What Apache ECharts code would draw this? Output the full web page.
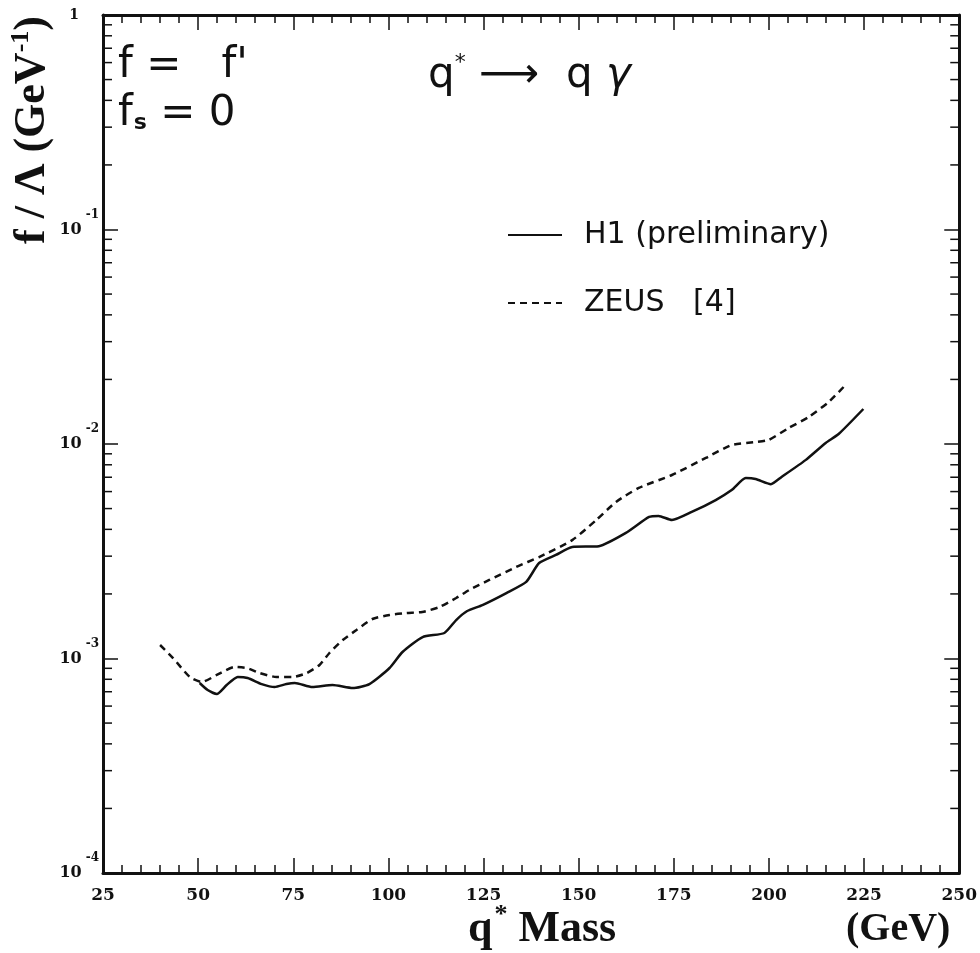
<!DOCTYPE html>
<html>
<head>
<meta charset="utf-8">
<script src="https://cdn.jsdelivr.net/npm/echarts@6/dist/echarts.min.js"></script>
<style>
  html, body { margin: 0; padding: 0; background: #ffffff; }
  #chart { width: 980px; height: 953px; }
</style>
</head>
<body>
<div id="chart"></div>
<script>
// Excited quark q* -> q gamma: upper limits on f/Lambda vs q* mass
const h1Mass = [50.4, 52.5, 54.9, 57.5, 60.4, 63, 66.7, 70.1, 73.2, 75.4,
  80, 85.3, 90.6, 95, 100.3, 103.7, 109, 114.7, 117.8, 120.7,
  124.7, 131, 136.2, 139.6, 144, 148.3, 155.3, 162.4, 168.5, 171,
  174.5, 179.7, 186, 190.2, 193.9, 196.5, 200.5, 203.3, 209.6, 214.9,
  218.3, 224.8];
const h1Limit = [7.69e-4, 7.13e-4, 6.83e-4, 7.52e-4, 8.20e-4, 8.11e-4, 7.60e-4, 7.36e-4, 7.60e-4, 7.69e-4,
  7.36e-4, 7.52e-4, 7.28e-4, 7.60e-4, 9.03e-4, 1.072e-3, 1.259e-3, 1.315e-3, 1.511e-3, 1.665e-3,
  1.775e-3, 2.019e-3, 2.275e-3, 2.787e-3, 3.04e-3, 3.31e-3, 3.34e-3, 3.85e-3, 4.57e-3, 4.62e-3,
  4.42e-3, 4.82e-3, 5.48e-3, 6.10e-3, 6.94e-3, 6.87e-3, 6.50e-3, 7.02e-3, 8.41e-3, 1.011e-2,
  1.113e-2, 1.456e-2];

const zeusMass = [40, 43.4, 47.8, 51, 54.9, 59.6, 62.8, 66.2, 70.6, 74.8,
  78.5, 81.9, 84.5, 88, 91.6, 95.8, 100.3, 104.7, 108.9, 113.4,
  117.8, 121.2, 126.5, 133.6, 139.6, 148.3, 154.6, 159.8, 165.8, 174.5,
  183.4, 190.2, 196.5, 199.9, 205.2, 210.4, 215.7, 220.1];
const zeusLimit = [1.156e-3, 1.005e-3, 8.20e-4, 7.77e-4, 8.38e-4, 9.13e-4, 9.03e-4, 8.55e-4, 8.20e-4, 8.20e-4,
  8.55e-4, 9.33e-4, 1.061e-3, 1.219e-3, 1.358e-3, 1.528e-3, 1.596e-3, 1.630e-3, 1.647e-3, 1.738e-3,
  1.914e-3, 2.085e-3, 2.323e-3, 2.673e-3, 2.972e-3, 3.565e-3, 4.42e-3, 5.37e-3, 6.24e-3, 7.17e-3,
  8.61e-3, 9.89e-3, 1.021e-2, 1.044e-2, 1.188e-2, 1.336e-2, 1.570e-2, 1.884e-2];

const massMin = 25, massMax = 250, massStep = 25;
const limitMin = 1e-4, limitMax = 1;
const seriesNames = ['H1 (preliminary)', 'ZEUS   [4]'];

const INK = '#111111';
const SERIF = '"Liberation Serif", "Times New Roman", serif';
const TICKSERIF = '"DejaVu Serif", "Liberation Serif", serif';
const SANS = '"DejaVu Sans", "Liberation Sans", sans-serif';

const grid = { left: 103, top: 15, width: 858, height: 858 };

function pairs(xs, ys) { return xs.map((x, i) => [x, ys[i]]); }

function logLabel(v) {
  const e = Math.round(Math.log10(v));
  if (e === 0) return '{one|1}';
  return '{base|10}{sup|' + e + '}';
}

const xAxisCommon = {
  type: 'value', min: massMin, max: massMax, interval: massStep,
  axisLine: { show: true, onZero: false, lineStyle: { color: INK, width: 3 } },
  axisTick: { show: true, inside: true, length: 15, lineStyle: { color: INK, width: 1.5 } },
  minorTick: { show: true, splitNumber: 5, length: 8, lineStyle: { color: INK, width: 1.5 } },
  splitLine: { show: false }
};
const yAxisCommon = {
  type: 'log', logBase: 10, min: limitMin, max: limitMax,
  axisLine: { show: true, onZero: false, lineStyle: { color: INK, width: 3 } },
  axisTick: { show: true, inside: true, length: 15, lineStyle: { color: INK, width: 1.5 } },
  minorTick: { show: false },
  splitLine: { show: false }
};

const chart = echarts.init(document.getElementById('chart'), null, { renderer: 'canvas' });

const option = {
  backgroundColor: '#ffffff',
  animation: false,
  grid: grid,
  xAxis: [
    Object.assign({}, xAxisCommon, {
      position: 'bottom',
      axisLabel: { show: true, margin: 14, color: INK, fontFamily: TICKSERIF, fontWeight: 'bold', fontSize: 17 }
    }),
    Object.assign({}, xAxisCommon, { position: 'top', axisLabel: { show: false } })
  ],
  yAxis: [
    Object.assign({}, yAxisCommon, {
      position: 'left',
      axisLabel: {
        show: true, margin: 4, color: INK,
        formatter: logLabel,
        rich: {
          base: { fontFamily: TICKSERIF, fontWeight: 'bold', fontSize: 16, color: INK },
          sup: { fontFamily: TICKSERIF, fontWeight: 'bold', fontSize: 12, color: INK, padding: [0, 0, 30, 4] },
          one: { fontFamily: TICKSERIF, fontWeight: 'bold', fontSize: 14, color: INK, padding: [0, 20, 0, 0] }
        }
      }
    }),
    Object.assign({}, yAxisCommon, { position: 'right', axisLabel: { show: false } })
  ],
  legend: {
    orient: 'vertical', left: 502, top: 215,
    itemWidth: 54, itemHeight: 30, itemGap: 38,
    data: seriesNames,
    itemStyle: { opacity: 0, borderWidth: 0 },
    textStyle: { fontFamily: SANS, fontSize: 30, color: INK, padding: [0, 0, 0, 17] }
  },
  series: [
    {
      name: seriesNames[0], type: 'line', xAxisIndex: 0, yAxisIndex: 0,
      data: pairs(h1Mass, h1Limit),
      showSymbol: false, symbol: 'none', smooth: 0.2,
      lineStyle: { color: INK, width: 2.5, type: 'solid' },
      itemStyle: { color: INK }
    },
    {
      name: seriesNames[1], type: 'line', xAxisIndex: 0, yAxisIndex: 0,
      data: pairs(zeusMass, zeusLimit),
      showSymbol: false, symbol: 'none', smooth: 0.2,
      lineStyle: { color: INK, width: 2.5, type: [7, 5] },
      itemStyle: { color: INK }
    }
  ]
};

chart.setOption(option);

// Log-scale minor ticks (2..9 x 10^n) on the left and right frame, placed via the y scale
const xLeft = chart.convertToPixel({ xAxisIndex: 0 }, massMin);
const xRight = chart.convertToPixel({ xAxisIndex: 0 }, massMax);
const minorLen = 9;
const graphics = [];
for (let e = Math.round(Math.log10(limitMin)); e < Math.round(Math.log10(limitMax)); e++) {
  for (let k = 2; k <= 9; k++) {
    const y = chart.convertToPixel({ yAxisIndex: 0 }, k * Math.pow(10, e));
    graphics.push({ type: 'line', shape: { x1: xLeft, y1: y, x2: xLeft + minorLen, y2: y },
      style: { stroke: INK, lineWidth: 1.5 }, silent: true });
    graphics.push({ type: 'line', shape: { x1: xRight - minorLen, y1: y, x2: xRight, y2: y },
      style: { stroke: INK, lineWidth: 1.5 }, silent: true });
  }
}

function label(x, y, text, font, rich, extra) {
  return Object.assign({
    type: 'text', x: x, y: y, silent: true,
    style: Object.assign({
      text: text, font: font, fill: INK,
      textAlign: 'left', align: 'left', textVerticalAlign: 'middle', verticalAlign: 'middle',
      rich: rich || {}
    }, (extra && extra.style) || {})
  }, (extra && extra.el) || {});
}

// Coupling assumptions and decay channel
graphics.push(label(118, 66, "f =   f'", '42px ' + SANS));
graphics.push(label(118, 114, '{a|f}{sub|s}{a| = 0}', '42px ' + SANS, {
  a: { fontFamily: SANS, fontSize: 42, color: INK },
  sub: { fontFamily: SANS, fontSize: 22, fontWeight: 'bold', color: INK, padding: [18, 0, 0, 1] }
}));
graphics.push(label(428, 76, '{a|q}{sup|*}{a| ⟶  q }{g|γ}', '42px ' + SANS, {
  a: { fontFamily: SANS, fontSize: 42, color: INK },
  sup: { fontFamily: SANS, fontSize: 22, color: INK, padding: [0, 0, 26, 0] },
  g: { fontFamily: SANS, fontSize: 42, fontStyle: 'italic', color: INK }
}));

// Axis titles
graphics.push(label(33, 130, '{t|f / Λ (GeV}{s|-1}{t|)}', 'bold 44px ' + SERIF, {
  t: { fontFamily: SERIF, fontWeight: 'bold', fontSize: 44, color: INK },
  s: { fontFamily: SERIF, fontWeight: 'bold', fontSize: 26, color: INK, padding: [0, 0, 24, 0] }
}, { el: { rotation: Math.PI / 2 }, style: { textAlign: 'center', align: 'center' } }));
graphics.push(label(468, 930, '{t|q}{s|*}{t| Mass}', 'bold 44px ' + SERIF, {
  t: { fontFamily: SERIF, fontWeight: 'bold', fontSize: 44, color: INK },
  s: { fontFamily: SERIF, fontWeight: 'bold', fontSize: 26, color: INK, padding: [0, 0, 30, 2] }
}));
graphics.push(label(846, 930, '(GeV)', 'bold 40px ' + SERIF));

chart.setOption({ graphic: { elements: graphics } });
</script>
</body>
</html>
